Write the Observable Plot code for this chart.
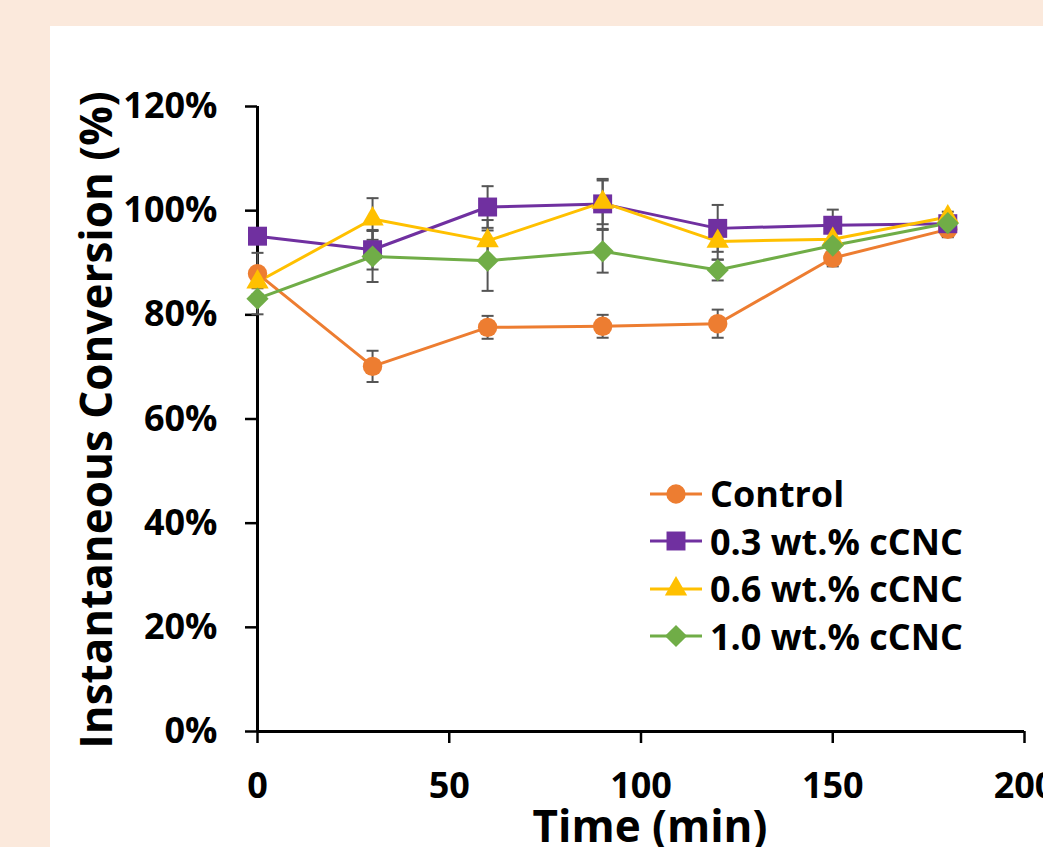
<!DOCTYPE html>
<html>
<head>
<meta charset="utf-8">
<script src="https://cdn.jsdelivr.net/npm/d3@7"></script>
<script src="https://cdn.jsdelivr.net/npm/@observablehq/plot@0.6"></script>
<style>
  html, body { margin: 0; padding: 0; }
  body { width: 1043px; height: 847px; overflow: hidden; background: #FBE9DC; position: relative;
         font-family: "Open Sans", sans-serif; font-weight: 700; color: #000; }
  #panel { position: absolute; left: 50px; top: 26px; right: 0; bottom: 0; background: #fff; }
  #chart { position: absolute; left: 0; top: 0; }
  .title { position: absolute; white-space: nowrap; font-size: 44px; font-weight: 700; line-height: 1; }
  #legend { position: absolute; left: 648px; top: 470px; }
  .lg-row { display: flex; align-items: center; height: 47.5px; font-size: 36px; font-weight: 700; }
  .lg-row svg { margin-right: 6px; }
</style>
</head>
<body>
<div id="panel"></div>
<div id="chart"></div>
<div class="title" id="ytitle">Instantaneous Conversion (%)</div>
<div class="title" id="xtitle">Time (min)</div>
<div id="legend"></div>
<script>
// ---- data ----
const time = [0, 30, 60, 90, 120, 150, 180];
const seriesNames = ["Control", "0.3 wt.% cCNC", "0.6 wt.% cCNC", "1.0 wt.% cCNC"];
const seriesColors = ["#ED7D31", "#7030A0", "#FFC000", "#70AD47"];
const seriesSymbols = ["circle", "square", "triangle", "diamond2"];
const control    = [87.9, 70.1, 77.6, 77.8, 78.3, 90.9, 96.4];
const controlErr = [4.0, 3.0, 2.2, 2.2, 2.7, 1.6, 1.5];
const cnc03      = [95.1, 92.5, 100.7, 101.3, 96.6, 97.2, 97.5];
const cnc03Err   = [1.2, 3.8, 4.0, 4.8, 4.5, 3.0, 1.2];
const cnc06      = [86.3, 98.4, 94.2, 101.6, 94.1, 94.5, 98.8];
const cnc06Err   = [1.2, 4.0, 4.0, 4.2, 3.5, 1.2, 1.0];
const cnc10      = [83.1, 91.2, 90.4, 92.2, 88.6, 93.3, 97.6];
const cnc10Err   = [3.0, 4.9, 5.8, 4.1, 2.0, 1.2, 1.0];
const yTicks = [0, 20, 40, 60, 80, 100, 120];
const xTicks = [0, 50, 100, 150, 200];

// ---- build table ----
const values = [control, cnc03, cnc06, cnc10];
const errors = [controlErr, cnc03Err, cnc06Err, cnc10Err];
const rows = [];
seriesNames.forEach((name, s) => {
  time.forEach((t, i) => rows.push({series: name, time: t, value: values[s][i], err: errors[s][i]}));
});
const markerR = {"circle": 9.7, "square": 10.7, "triangle": 8.3, "diamond2": 10};

const capSymbol = {
  draw(context) { context.moveTo(-6, 0); context.lineTo(6, 0); }
};

const W = 1100, H = 847;
const chart = Plot.plot({
  width: W,
  height: H,
  marginLeft: 257,
  marginRight: W - 1024,
  marginTop: 106,
  marginBottom: H - 731,
  style: {background: "transparent", fontFamily: "'Open Sans', sans-serif", fontWeight: 700, fontSize: "36px", color: "#000", maxWidth: "none", overflow: "visible"},
  x: {domain: [0, 200]},
  y: {domain: [0, 120]},
  color: {domain: seriesNames, range: seriesColors},
  marks: [
    Plot.axisY({ticks: yTicks, tickFormat: d => d + "%", tickSize: 12, tickPadding: 28, strokeWidth: 2.5, label: null}),
    Plot.axisX({ticks: xTicks, tickSize: 12, tickPadding: 29, strokeWidth: 2.5, label: null}),
    Plot.ruleY([0], {stroke: "#000", strokeWidth: 3}),
    Plot.ruleX([0], {stroke: "#000", strokeWidth: 3}),
    Plot.line(rows, {x: "time", y: "value", z: "series", stroke: "series", strokeWidth: 3}),
    Plot.ruleX(rows, {x: "time", y1: d => d.value - d.err, y2: d => d.value + d.err, stroke: "#555555", strokeWidth: 2}),
    Plot.dot(rows, {x: "time", y: d => d.value + d.err, symbol: capSymbol, fill: "none", stroke: "#555555", strokeWidth: 2}),
    Plot.dot(rows, {x: "time", y: d => d.value - d.err, symbol: capSymbol, fill: "none", stroke: "#555555", strokeWidth: 2}),
    ...seriesNames.map((name, s) =>
      Plot.dot(rows, {filter: d => d.series === name, x: "time", y: "value", fill: "series",
                      symbol: seriesSymbols[s], r: markerR[seriesSymbols[s]]}))
  ]
});
document.getElementById("chart").appendChild(chart);

// ---- axis titles ----
const yt = document.getElementById("ytitle");
yt.style.left = "95px"; yt.style.top = "420px";
yt.style.transform = "translate(-50%, -50%) rotate(-90deg)";
const xt = document.getElementById("xtitle");
xt.style.left = "650px"; xt.style.top = "803px";
xt.style.transform = "translateX(-50%)";

// ---- legend ----
const legend = d3.select("#legend");
const symMap = {"circle": d3.symbolCircle, "square": d3.symbolSquare, "triangle": d3.symbolTriangle, "diamond2": d3.symbolDiamond2};
seriesNames.forEach((name, s) => {
  const row = legend.append("div").attr("class", "lg-row");
  const sv = row.append("svg").attr("width", 56).attr("height", 30);
  sv.append("line").attr("x1", 2).attr("x2", 54).attr("y1", 15).attr("y2", 15)
    .attr("stroke", seriesColors[s]).attr("stroke-width", 3);
  const r = markerR[seriesSymbols[s]];
  sv.append("path").attr("transform", "translate(28,15)")
    .attr("d", d3.symbol(symMap[seriesSymbols[s]], Math.PI * r * r)())
    .attr("fill", seriesColors[s]);
  row.append("span").text(name);
});
</script>
</body>
</html>
